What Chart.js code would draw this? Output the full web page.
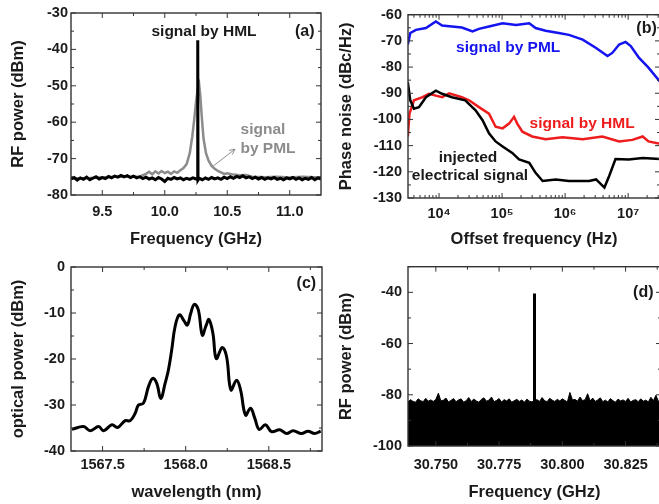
<!DOCTYPE html>
<html>
<head>
<meta charset="utf-8">
<script src="https://cdn.jsdelivr.net/npm/chart.js@4.4.0/dist/chart.umd.min.js"></script>
<style>
  html, body { margin: 0; padding: 0; background: #fff; overflow: hidden; width: 659px; height: 504px; }
  .panel { position: absolute; }
</style>
</head>
<body>
<div class="panel" style="left:0;top:0;width:330px;height:252px"><canvas id="chartA"></canvas></div>
<div class="panel" style="left:330px;top:0;width:335px;height:252px"><canvas id="chartB"></canvas></div>
<div class="panel" style="left:0;top:252px;width:330px;height:252px"><canvas id="chartC"></canvas></div>
<div class="panel" style="left:330px;top:252px;width:335px;height:252px"><canvas id="chartD"></canvas></div>
<script>
// ---- (a) RF spectrum around 10.26 GHz ----
const freqHmlA = [9.250, 9.275, 9.300, 9.325, 9.350, 9.375, 9.400, 9.425, 9.450, 9.475, 9.500, 9.525, 9.550, 9.575,
  9.600, 9.625, 9.650, 9.675, 9.700, 9.725, 9.750, 9.775, 9.800, 9.825, 9.850, 9.875, 9.900, 9.925, 9.950, 9.975,
  10.000, 10.025, 10.050, 10.075, 10.100, 10.125, 10.150, 10.175, 10.200, 10.225, 10.250, 10.262, 10.264, 10.266,
  10.275, 10.300, 10.325, 10.350, 10.375, 10.400, 10.425, 10.450, 10.475, 10.500, 10.525, 10.550, 10.575, 10.600,
  10.625, 10.650, 10.675, 10.700, 10.725, 10.750, 10.775, 10.800, 10.825, 10.850, 10.875, 10.900, 10.925, 10.950,
  10.975, 11.000, 11.025, 11.050, 11.075, 11.100, 11.125, 11.150, 11.175, 11.200, 11.225, 11.250];
const powHmlA = [-75.6, -75.2, -75.9, -75.3, -75.7, -75.1, -75.8, -75.4, -75.0, -75.6, -75.2, -75.5, -74.9, -75.3,
  -74.8, -75.1, -74.6, -75.0, -74.7, -75.2, -74.8, -75.3, -75.0, -75.5, -75.1, -75.6, -75.3, -75.8, -75.2, -75.6,
  -76.3, -75.4, -75.7, -75.2, -75.6, -75.3, -75.8, -75.4, -75.7, -75.3, -75.6, -75.8, -37.5, -75.9,
  -75.4, -75.8, -75.3, -75.7, -75.2, -75.6, -75.3, -75.7, -75.1, -75.5, -75.0, -75.4, -74.9, -75.2,
  -74.7, -75.3, -75.0, -75.5, -75.1, -75.6, -75.2, -75.7, -75.3, -75.6, -75.2, -75.7, -75.4, -75.8,
  -75.3, -75.6, -75.2, -75.7, -75.3, -75.8, -75.4, -75.7, -75.2, -75.8, -75.3, -75.6];
const freqPmlA = [9.25, 9.40, 9.60, 9.80, 9.85, 9.875, 9.90, 9.925, 9.95, 9.975, 10.00, 10.025, 10.05, 10.075, 10.10,
  10.125, 10.15, 10.175, 10.20, 10.22, 10.235, 10.25, 10.265, 10.275, 10.285, 10.295, 10.31, 10.33, 10.35, 10.375,
  10.40, 10.425, 10.45, 10.475, 10.50, 10.55, 10.60, 10.65, 10.70, 10.80, 10.90, 11.00, 11.10, 11.25];
const powPmlA = [-75.4, -75.3, -75.0, -74.9, -74.2, -73.6, -74.3, -73.5, -74.1, -73.4, -74.0, -73.6, -74.2, -73.5, -73.9,
  -73.2, -72.6, -71.5, -68.5, -64.0, -59.5, -54.5, -50.5, -49.5, -53.0, -58.0, -64.5, -68.5, -70.5, -72.0,
  -72.8, -73.4, -73.8, -74.2, -74.0, -74.4, -74.6, -74.5, -75.0, -75.1, -75.0, -75.2, -75.0, -75.2];
const ticksAx = [9.5, 10.0, 10.5, 11.0];
const minorAx = [9.75, 10.25, 10.75];
const ticksAy = [-80, -70, -60, -50, -40, -30];
const minorAy = [-75, -65, -55, -45, -35];

// ---- (b) phase noise ----
const offPml = [3.2e3, 3.5e3, 4.3e3, 6.2e3, 8.9e3, 1.12e4, 1.6e4, 2.3e4, 3.4e4, 4.3e4, 6.2e4, 1.02e5, 1.66e5, 2.7e5,
  3.4e5, 4.9e5, 7.9e5, 1.15e6, 1.9e6, 3.1e6, 4.7e6, 5.6e6, 7.2e6, 9.1e6, 1.1e7, 1.48e7, 2.1e7, 3.2e7];
const pnPml = [-71.4, -67.0, -65.8, -65.1, -62.6, -64.1, -64.5, -64.9, -66.4, -65.4, -64.5, -63.3, -63.9, -63.3,
  -65.1, -66.1, -67.0, -67.7, -69.5, -72.7, -75.8, -74.6, -71.4, -70.4, -72.0, -76.4, -80.2, -85.6];
const offHml = [3.2e3, 3.4e3, 4.0e3, 5.5e3, 6.9e3, 8.9e3, 1.12e4, 1.45e4, 2.3e4, 3.0e4, 4.3e4, 6.2e4, 7.9e4, 1.02e5,
  1.29e5, 1.55e5, 1.74e5, 2.1e5, 3.0e5, 4.9e5, 9.1e5, 1.9e6, 3.9e6, 7.2e6, 1.17e7, 1.7e7, 2.1e7, 3.2e7];
const pnHml = [-106.5, -97.8, -92.7, -91.5, -90.2, -90.9, -91.5, -90.0, -91.5, -92.7, -95.3, -97.8, -102.8, -103.4,
  -101.6, -99.0, -101.6, -104.7, -106.5, -107.6, -106.8, -107.6, -106.5, -108.4, -107.8, -106.5, -108.4, -109.3];
const offInj = [3.2e3, 3.5e3, 4.0e3, 4.8e3, 6.2e3, 8.9e3, 1.12e4, 1.6e4, 2.6e4, 3.8e4, 4.9e4, 6.2e4, 7.9e4, 1.02e5,
  1.45e5, 1.86e5, 2.7e5, 3.4e5, 4.4e5, 7.1e5, 1.15e6, 2.4e6, 3.1e6, 4.2e6, 5.0e6, 6.3e6, 1.02e7, 1.7e7, 3.2e7];
const pnInj = [-85.8, -92.7, -95.9, -95.3, -91.5, -89.0, -90.2, -91.5, -92.7, -96.5, -100.3, -105.3, -108.4, -110.3,
  -112.8, -115.3, -116.6, -120.4, -123.5, -122.9, -123.5, -123.5, -122.9, -126.0, -121.6, -115.1, -115.3, -114.7, -115.1];
const ticksBx = [1e4, 1e5, 1e6, 1e7];
const minorBx = [4e3, 5e3, 6e3, 7e3, 8e3, 9e3, 2e4, 3e4, 4e4, 5e4, 6e4, 7e4, 8e4, 9e4, 2e5, 3e5, 4e5, 5e5, 6e5, 7e5,
  8e5, 9e5, 2e6, 3e6, 4e6, 5e6, 6e6, 7e6, 8e6, 9e6, 2e7, 3e7];
const ticksBy = [-130, -120, -110, -100, -90, -80, -70, -60];
const minorBy = [-125, -115, -105, -95, -85, -75, -65];

// ---- (c) optical spectrum ----
const waveC = [1567.316, 1567.386, 1567.426, 1567.476, 1567.506, 1567.556, 1567.590, 1567.636, 1567.666, 1567.696,
  1567.716, 1567.746, 1567.776, 1567.802, 1567.826, 1567.850, 1567.876, 1567.896, 1567.916, 1567.936, 1567.962,
  1567.990, 1568.010, 1568.030, 1568.052, 1568.076, 1568.100, 1568.122, 1568.140, 1568.164, 1568.184, 1568.220,
  1568.246, 1568.272, 1568.306, 1568.330, 1568.360, 1568.390, 1568.416, 1568.442, 1568.480, 1568.516, 1568.566,
  1568.606, 1568.646, 1568.696, 1568.736, 1568.776, 1568.812];
const powC = [-35.3, -34.7, -35.6, -34.7, -35.6, -34.3, -34.9, -33.4, -33.4, -31.8,
  -30.0, -29.6, -26.0, -24.2, -25.3, -28.6, -25.3, -22.4, -18.0, -13.0, -10.4,
  -11.7, -12.6, -10.1, -8.1, -9.3, -14.8, -12.8, -11.4, -14.5, -19.9, -17.5,
  -19.5, -26.7, -24.6, -26.7, -32.2, -30.7, -32.9, -35.3, -34.3, -35.8, -35.4,
  -36.2, -35.6, -36.2, -35.7, -36.2, -35.7];
const ticksCx = [1567.5, 1568.0, 1568.5];
const minorCx = [1567.75, 1568.25, 1568.75];
const ticksCy = [-40, -30, -20, -10, 0];
const minorCy = [-35, -25, -15, -5];

// ---- (d) RF spectrum around 30.79 GHz ----
const freqD = [30.739, 30.740, 30.741, 30.742, 30.743, 30.744, 30.745, 30.746, 30.747, 30.748,
  30.749, 30.750, 30.751, 30.752, 30.753, 30.754, 30.755, 30.756, 30.757, 30.758,
  30.759, 30.760, 30.761, 30.762, 30.763, 30.764, 30.765, 30.766, 30.767, 30.768,
  30.769, 30.770, 30.771, 30.772, 30.773, 30.774, 30.775, 30.776, 30.777, 30.778,
  30.779, 30.780, 30.781, 30.782, 30.783, 30.784, 30.785, 30.786, 30.787, 30.788,
  30.789, 30.790, 30.791, 30.792, 30.793, 30.794, 30.795, 30.796, 30.797, 30.798,
  30.799, 30.800, 30.801, 30.802, 30.803, 30.804, 30.805, 30.806, 30.807, 30.808,
  30.809, 30.810, 30.811, 30.812, 30.813, 30.814, 30.815, 30.816, 30.817, 30.818,
  30.819, 30.820, 30.821, 30.822, 30.823, 30.824, 30.825, 30.826, 30.827, 30.828,
  30.829, 30.830, 30.831, 30.832, 30.833, 30.834, 30.835, 30.836, 30.837, 30.838, 30.839];
const powD = [-82.8, -81.9, -82.6, -82.9, -81.6, -82.3, -82.7, -81.4, -82.5, -82.0,
  -82.6, -81.8, -79.4, -82.4, -82.1, -81.3, -82.8, -82.2, -81.5, -82.7,
  -82.0, -81.6, -82.9, -82.3, -81.1, -82.6, -81.7, -82.4, -82.9, -81.8,
  -81.2, -82.5, -82.1, -80.9, -82.7, -82.2, -81.5, -82.8, -81.9, -82.4,
  -81.6, -82.9, -82.3, -81.8, -82.6, -82.0, -82.9, -81.7, -82.5, -82.8,
  -82.2, -81.9, -82.6, -81.1, -82.3, -82.7, -81.4, -82.1, -82.6, -81.8,
  -82.4, -81.6, -82.2, -82.8, -79.1, -82.0, -81.8, -82.5, -80.9, -82.3,
  -81.9, -79.6, -82.4, -81.3, -82.6, -82.0, -81.2, -82.7, -82.1, -82.8,
  -81.5, -82.3, -82.9, -81.7, -82.4, -82.0, -82.6, -81.4, -82.8, -82.2,
  -81.9, -82.7, -81.6, -82.5, -82.1, -82.8, -81.0, -82.3, -80.2, -82.6, -81.8];
const spikeFreqD = [30.789, 30.789];
const spikePowD = [-100, -40.5];
const ticksDx = [30.750, 30.775, 30.800, 30.825];
const minorDx = [30.7625, 30.7875, 30.8125, 30.8375];
const ticksDy = [-100, -80, -60, -40];
const minorDy = [-90, -70, -50, -30];

const FONT = '"Liberation Sans", Arial, Helvetica, sans-serif';
const INK = '#1a1a1a';

const pts = (xs, ys) => xs.map((x, i) => ({x: x, y: ys[i]}));

// frame on all four sides with inward ticks, plus text notes
const frame = {
  id: 'frame',
  afterDatasetsDraw(chart, args, o) {
    const {ctx, chartArea: a} = chart;
    const sx = chart.scales.x, sy = chart.scales.y;
    ctx.save();
    ctx.strokeStyle = '#333';
    ctx.lineWidth = 1.4;
    ctx.strokeRect(a.left, a.top, a.right - a.left, a.bottom - a.top);
    ctx.lineWidth = 1;
    ctx.beginPath();
    const xt = (vals, len) => vals.forEach(v => {
      const p = sx.getPixelForValue(v);
      ctx.moveTo(p, a.bottom); ctx.lineTo(p, a.bottom - len);
      ctx.moveTo(p, a.top); ctx.lineTo(p, a.top + len);
    });
    const yt = (vals, len) => vals.forEach(v => {
      const p = sy.getPixelForValue(v);
      ctx.moveTo(a.left, p); ctx.lineTo(a.left + len, p);
      ctx.moveTo(a.right, p); ctx.lineTo(a.right - len, p);
    });
    xt(sx.ticks.map(t => t.value), 5);
    xt(o.xMinor || [], 3);
    yt(sy.ticks.map(t => t.value), 5);
    yt(o.yMinor || [], 3);
    ctx.stroke();

    if (o.arrow) {
      const x0 = sx.getPixelForValue(o.arrow[0]), y0 = sy.getPixelForValue(o.arrow[1]);
      const x1 = sx.getPixelForValue(o.arrow[2]), y1 = sy.getPixelForValue(o.arrow[3]);
      const ang = Math.atan2(y1 - y0, x1 - x0);
      ctx.strokeStyle = '#8c8c8c';
      ctx.lineWidth = 1;
      ctx.beginPath();
      ctx.moveTo(x0, y0); ctx.lineTo(x1, y1);
      ctx.moveTo(x1 - 6 * Math.cos(ang - 0.45), y1 - 6 * Math.sin(ang - 0.45));
      ctx.lineTo(x1, y1);
      ctx.lineTo(x1 - 6 * Math.cos(ang + 0.45), y1 - 6 * Math.sin(ang + 0.45));
      ctx.stroke();
    }

    ctx.textAlign = 'center';
    ctx.textBaseline = 'middle';
    (o.notes || []).forEach(n => {
      ctx.font = 'bold ' + (n.size || 15.5) + 'px ' + FONT;
      ctx.fillStyle = n.color || INK;
      ctx.fillText(n.text, sx.getPixelForValue(n.x), sy.getPixelForValue(n.y));
    });
    ctx.restore();
  }
};

function axis(o) {
  return {
    type: o.type || 'linear',
    min: o.min,
    max: o.max,
    grid: {display: false, drawTicks: false},
    border: {display: false},
    afterBuildTicks: s => { s.ticks = o.ticks.map(v => ({value: v})); },
    afterFit: s => { if (s.isHorizontal()) s.height = o.size; else s.width = o.size; },
    ticks: {
      font: {family: FONT, size: 14.5, weight: 'bold'},
      color: INK,
      padding: o.pad,
      autoSkip: false,
      minRotation: 0,
      maxRotation: 0,
      callback: o.fmt
    },
    title: {
      display: true,
      text: o.title,
      color: INK,
      font: {family: FONT, size: 16.5, weight: 'bold'},
      padding: o.tpad
    }
  };
}

function line(data, color, width, extra) {
  return Object.assign({
    data: data,
    borderColor: color,
    backgroundColor: color,
    borderWidth: width,
    pointRadius: 0,
    tension: 0,
    fill: false
  }, extra || {});
}

function makeChart(id, datasets, xAxis, yAxis, padding, frameOpts) {
  return new Chart(document.getElementById(id), {
    type: 'line',
    data: {datasets: datasets},
    options: {
      responsive: true,
      maintainAspectRatio: false,
      animation: false,
      events: [],
      layout: {padding: padding},
      scales: {x: xAxis, y: yAxis},
      plugins: {legend: {display: false}, tooltip: {enabled: false}, frame: frameOpts}
    },
    plugins: [frame]
  });
}

const sup = {4: '\u2074', 5: '\u2075', 6: '\u2076', 7: '\u2077'};

// (a)
makeChart('chartA',
  [line(pts(freqHmlA, powHmlA), '#000', 3), line(pts(freqPmlA, powPmlA), '#8c8c8c', 2.5)],
  axis({min: 9.25, max: 11.25, ticks: ticksAx, fmt: v => v.toFixed(1), size: 57, pad: 8,
        title: 'Frequency (GHz)', tpad: {top: 0, bottom: 2.4}}),
  axis({min: -80, max: -30, ticks: ticksAy, fmt: v => String(v), size: 71, pad: 3,
        title: 'RF power (dBm)', tpad: {top: 8.4, bottom: 0}}),
  {top: 13, right: 9, left: 0, bottom: 0},
  {xMinor: minorAx, yMinor: minorAy, arrow: [10.386, -72.1, 10.562, -67.4],
   notes: [
     {text: 'signal by HML', x: 10.314, y: -35.2},
     {text: '(a)', x: 11.12, y: -35.2, size: 16},
     {text: 'signal', x: 10.786, y: -62.0, color: '#8c8c8c'},
     {text: 'by PML', x: 10.826, y: -67.4, color: '#8c8c8c'}
   ]});

// (b)
makeChart('chartB',
  [line(pts(offPml, pnPml), '#1414f0', 2.5), line(pts(offInj, pnInj), '#000', 2.5), line(pts(offHml, pnHml), '#ee1c1c', 2.5)],
  axis({type: 'logarithmic', min: 3.22e3, max: 3.2e7, ticks: ticksBx,
        fmt: v => '10' + sup[Math.round(Math.log10(v))], size: 54, pad: 7,
        title: 'Offset frequency (Hz)', tpad: {top: 0, bottom: 2.4}}),
  axis({min: -130, max: -60, ticks: ticksBy, fmt: v => String(v), size: 78, pad: 6,
        title: 'Phase noise (dBc/Hz)', tpad: {top: 6.4, bottom: 0}}),
  {top: 13, right: 5, left: 0, bottom: 0},
  {xMinor: minorBx, yMinor: minorBy,
   notes: [
     {text: 'signal by PML', x: 1.25e5, y: -72.7, color: '#1414f0'},
     {text: 'signal by HML', x: 1.86e6, y: -101.8, color: '#ee1c1c'},
     {text: 'injected', x: 2.88e4, y: -114.7},
     {text: 'electrical signal', x: 3.1e4, y: -121.6},
     {text: '(b)', x: 1.96e7, y: -65.2, size: 16}
   ]});

// (c)
makeChart('chartC',
  [line(pts(waveC, powC), '#000', 3, {tension: 0.4})],
  axis({min: 1567.31, max: 1568.82, ticks: ticksCx, fmt: v => v.toFixed(1), size: 53, pad: 5.5,
        title: 'wavelength (nm)', tpad: {top: 0, bottom: 1.4}}),
  axis({min: -40, max: 0, ticks: ticksCy, fmt: v => String(v), size: 71, pad: 6,
        title: 'optical power (dBm)', tpad: {top: 8.4, bottom: 0}}),
  {top: 15, right: 8, left: 0, bottom: 0},
  {xMinor: minorCx, yMinor: minorCy,
   notes: [{text: '(c)', x: 1568.726, y: -3.5, size: 16}]});

// (d)
makeChart('chartD',
  [line(pts(freqD, powD), '#000', 1, {fill: 'start'}), line(pts(spikeFreqD, spikePowD), '#000', 3)],
  axis({min: 30.739, max: 30.839, ticks: ticksDx, fmt: v => v.toFixed(3), size: 58, pad: 10,
        title: 'Frequency (GHz)', tpad: {top: 0, bottom: 1.4}}),
  axis({min: -100, max: -30, ticks: ticksDy, fmt: v => String(v), size: 78, pad: 6,
        title: 'RF power (dBm)', tpad: {top: 6.4, bottom: 0}}),
  {top: 8, right: 4, left: 0, bottom: 0},
  {xMinor: minorDx, yMinor: minorDy,
   notes: [{text: '(d)', x: 30.832, y: -40.0, size: 16}]});
</script>
</body>
</html>
